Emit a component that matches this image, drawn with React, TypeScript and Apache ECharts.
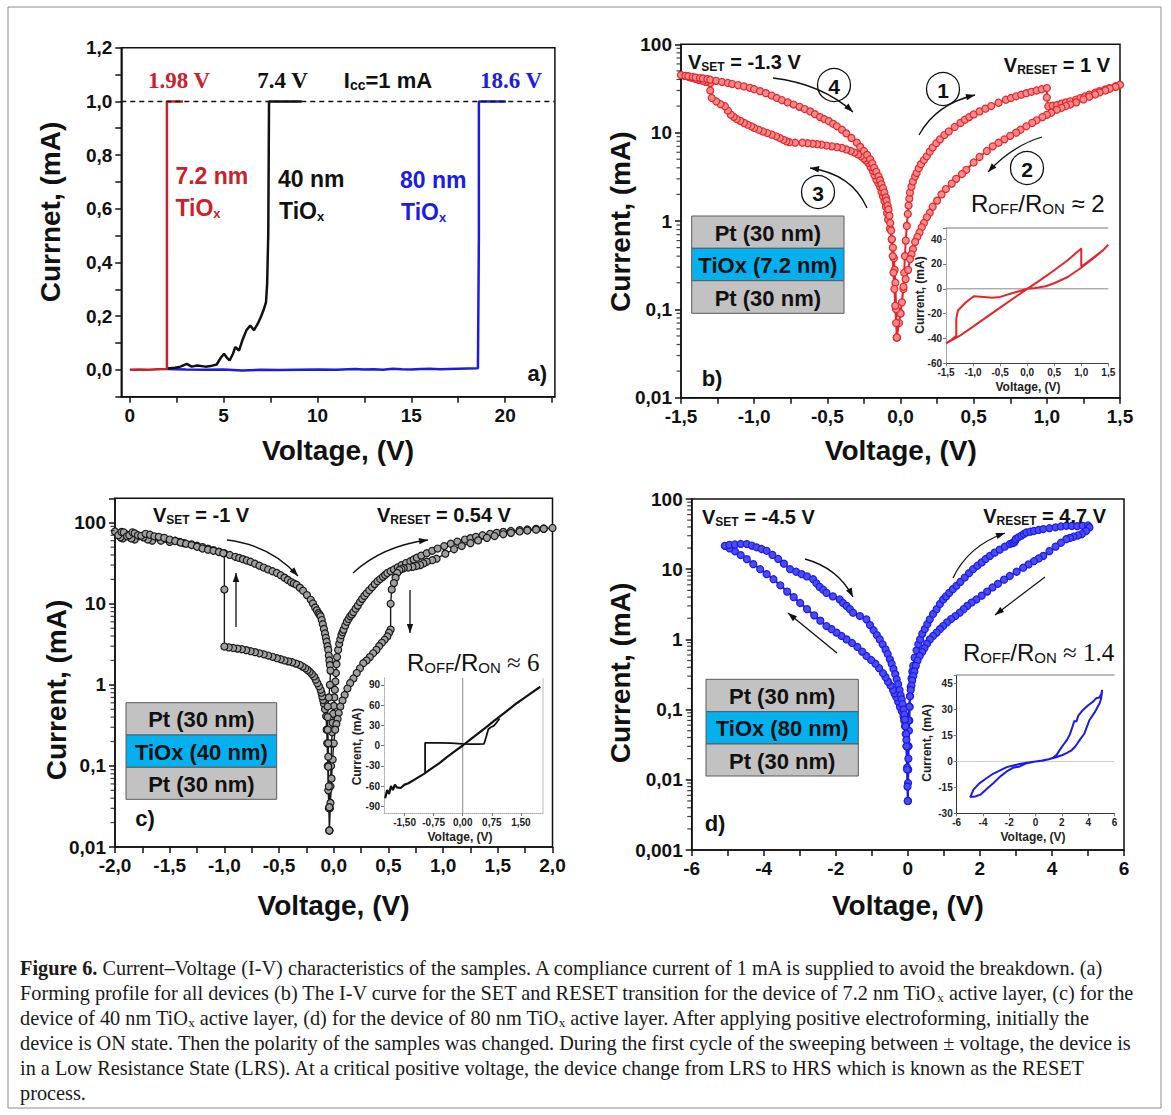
import React, { useEffect, useRef } from 'react';
import * as echarts from 'echarts';

// ---------------- DATA ----------------
// (a) forming curves  [voltage V, current mA]
const aRed = [[0, 0], [0.5, 0.001], [1.0, 0.0], [1.5, 0.002], [1.98, 0.003], [1.98, 0.5], [1.98, 1.0], [2.4, 1.0], [2.84, 1.0]];
const aBlack = [[1.98, 0.005], [2.4, 0.008], [2.7, 0.012], [3.04, 0.022], [3.3, 0.012], [3.6, 0.016], [4.03, 0.012], [4.3, 0.014], [4.63, 0.02], [4.85, 0.045], [5.02, 0.06], [5.18, 0.045], [5.32, 0.035], [5.5, 0.06], [5.62, 0.085], [5.82, 0.072], [6.0, 0.11], [6.22, 0.148], [6.42, 0.165], [6.62, 0.148], [6.82, 0.172], [7.0, 0.2], [7.12, 0.221], [7.26, 0.252], [7.32, 0.321], [7.38, 0.508], [7.42, 1.0], [8.2, 1.0], [9.16, 1.0]];
const aBlue = [[1.98, 0.003], [3.0, 0.001], [4.0, 0.0], [5.0, 0.001], [6.0, -0.002], [7.0, 0.0], [8.0, -0.001], [9.0, 0.0], [10.0, 0.001], [11.0, 0.0], [12.0, 0.003], [12.5, 0.001], [13.0, 0.002], [13.5, 0.0], [14.0, 0.004], [14.5, 0.002], [15.0, 0.001], [15.5, 0.003], [16.0, 0.004], [16.5, 0.002], [17.0, 0.003], [17.5, 0.004], [18.0, 0.005], [18.55, 0.006], [18.6, 0.5], [18.6, 1.0], [19.3, 1.0], [20.04, 1.0]];
const aCompliance = 1.0;

// (b) 7.2 nm TiOx, sweep order  [V, mA]
const bSweep = [
  [-0.025, 0.048], [-0.01, 0.07], [0.0, 0.09], [0.01, 0.12], [0.02, 0.17], [0.025, 0.26], [0.03, 0.4], [0.036, 0.6], [0.043, 0.88], [0.05, 1.2], [0.055, 1.5], [0.06, 1.8], [0.065, 2.1], [0.075, 2.45], [0.085, 2.8], [0.1, 3.2], [0.11, 3.5], [0.125, 3.95], [0.14, 4.4], [0.16, 4.9], [0.18, 5.4], [0.2, 6.1], [0.22, 6.8], [0.245, 7.6], [0.27, 8.4], [0.3, 9.4], [0.33, 10.3], [0.37, 11.6], [0.41, 12.9], [0.44, 14], [0.47, 15.0], [0.5, 16.1], [0.54, 17.4], [0.58, 18.7], [0.62, 20], [0.67, 21.8], [0.72, 23.6], [0.755, 24.7], [0.79, 25.8], [0.825, 26.9], [0.86, 28], [0.895, 29], [0.93, 30], [0.965, 31], [1.0, 32],
  [1.0, 25], [1.01, 19.9],
  [1.04, 20.2], [1.07, 20.5], [1.1, 21.3], [1.13, 22], [1.16, 22.6], [1.2, 23.7], [1.23, 24.6], [1.26, 25.7], [1.29, 26.9], [1.33, 28.3], [1.36, 29.5], [1.4, 30.9], [1.43, 32], [1.47, 33.5], [1.5, 34.9],
  [1.47, 33], [1.43, 31.5], [1.4, 30], [1.36, 28.5], [1.33, 27], [1.29, 25.5], [1.25, 23.8], [1.2, 22], [1.16, 20.8], [1.13, 20], [1.1, 19.1], [1.068, 18.2], [1.03, 16.8], [1.0, 15.9], [0.97, 15], [0.93, 13.8], [0.9, 12.9], [0.86, 11.8], [0.82, 10.8], [0.79, 10], [0.75, 9.2], [0.71, 8.4], [0.67, 7.7], [0.63, 7.0], [0.59, 6.2], [0.54, 5.3], [0.5, 4.6], [0.45, 3.8], [0.42, 3.4], [0.38, 3.0], [0.35, 2.65], [0.31, 2.3], [0.28, 2.0], [0.25, 1.7], [0.22, 1.45], [0.2, 1.24], [0.18, 1.1], [0.16, 0.95], [0.145, 0.85], [0.13, 0.74], [0.115, 0.66], [0.1, 0.58], [0.085, 0.48], [0.075, 0.42], [0.065, 0.37], [0.052, 0.28], [0.035, 0.22], [0.02, 0.18], [0.0, 0.09], [-0.025, 0.048],
  [-0.03, 0.1], [-0.035, 0.2], [-0.04, 0.28], [-0.045, 0.38], [-0.052, 0.5], [-0.06, 0.62], [-0.072, 0.82], [-0.085, 1.04], [-0.092, 1.22], [-0.1, 1.45], [-0.11, 1.68], [-0.12, 1.9], [-0.13, 2.15], [-0.14, 2.45], [-0.152, 2.7], [-0.165, 2.95], [-0.178, 3.3], [-0.19, 3.7], [-0.205, 4.1], [-0.22, 4.55], [-0.235, 4.85], [-0.25, 5.1], [-0.27, 5.4], [-0.29, 5.65], [-0.315, 5.95], [-0.34, 6.2], [-0.37, 6.45], [-0.40, 6.7], [-0.435, 6.85], [-0.47, 7.0], [-0.505, 7.15], [-0.54, 7.3], [-0.57, 7.4], [-0.6, 7.5], [-0.635, 7.6], [-0.67, 7.7], [-0.72, 7.7], [-0.76, 7.8], [-0.78, 8.0], [-0.8, 8.3], [-0.825, 8.7], [-0.85, 9.1], [-0.88, 9.5], [-0.91, 9.9], [-0.94, 10.3], [-0.97, 10.8], [-1.0, 11.3], [-1.02, 11.8], [-1.045, 12.3], [-1.07, 12.9], [-1.095, 13.6], [-1.12, 14.3], [-1.14, 15.1], [-1.16, 16], [-1.18, 17.8], [-1.2, 19.9], [-1.23, 21], [-1.26, 22.6], [-1.29, 24.7],
  [-1.30, 30], [-1.30, 36.4],
  [-1.33, 37.6], [-1.35, 38.5], [-1.38, 39.6], [-1.4, 40.5], [-1.43, 41.8], [-1.45, 43], [-1.48, 44], [-1.5, 45],
  [-1.47, 44], [-1.45, 43.5], [-1.42, 42.6], [-1.4, 42], [-1.37, 41.5], [-1.35, 41], [-1.32, 40.3], [-1.30, 39.7], [-1.26, 38.6], [-1.22, 37.5], [-1.18, 36.5], [-1.15, 35.5], [-1.11, 34.5], [-1.07, 33.4], [-1.03, 32.2], [-1.0, 31], [-0.96, 29.5], [-0.92, 28], [-0.88, 26.3], [-0.845, 24.7], [-0.81, 23.3], [-0.77, 22], [-0.73, 20.8], [-0.69, 19.6], [-0.655, 18.5], [-0.617, 17.4], [-0.585, 16.2], [-0.55, 15], [-0.52, 14.2], [-0.49, 13.5], [-0.46, 12.6], [-0.435, 11.8], [-0.4, 10.8], [-0.37, 9.8], [-0.335, 8.7], [-0.298, 7.7], [-0.275, 6.9], [-0.25, 6.2], [-0.228, 5.6], [-0.207, 5.0], [-0.193, 4.5], [-0.18, 4.0], [-0.165, 3.6], [-0.15, 3.2], [-0.14, 2.9], [-0.13, 2.6], [-0.12, 2.35], [-0.11, 2.1], [-0.1, 1.85], [-0.095, 1.7], [-0.088, 1.5], [-0.082, 1.35], [-0.076, 1.15], [-0.07, 0.95], [-0.064, 0.78], [-0.059, 0.62], [-0.053, 0.4], [-0.048, 0.26], [-0.042, 0.17], [-0.036, 0.11], [-0.03, 0.07], [-0.025, 0.048],
];
// (b) inset, linear scale
const biSweep = [[0, 0], [0.25, 7.2], [0.5, 15], [0.75, 23], [1.0, 32.5], [1.0, 18], [1.1, 21], [1.25, 26], [1.4, 31], [1.5, 35.5], [1.4, 31], [1.25, 25.5], [1.0, 17], [0.75, 9.5], [0.5, 4.5], [0.34, 2.1], [0.15, 0.6], [0, 0], [-0.25, -3.2], [-0.5, -6.5], [-0.65, -7.2], [-0.8, -6.5], [-0.98, -5.9], [-1.05, -8], [-1.14, -11.2], [-1.23, -15.2], [-1.28, -17.5], [-1.31, -24], [-1.31, -37.9], [-1.4, -41], [-1.5, -44], [-1.25, -38], [-1.0, -30.4], [-0.75, -22.8], [-0.5, -15.2], [-0.25, -7.6], [0, 0]];

// (c) 40 nm TiOx, sweep order
const cSweep = [
  [-0.04, 0.016], [-0.035, 0.03], [-0.03, 0.056], [-0.025, 0.1], [-0.02, 0.19], [-0.015, 0.26], [-0.01, 0.34], [-0.005, 0.44], [0.0, 0.55], [0.005, 0.7], [0.01, 0.87], [0.015, 1.1], [0.02, 1.4], [0.025, 1.8], [0.03, 2.2], [0.04, 2.7], [0.05, 3.2], [0.06, 3.65], [0.07, 4.1], [0.08, 4.45], [0.09, 4.8], [0.105, 5.4], [0.12, 6.0], [0.135, 6.5], [0.15, 7.0], [0.165, 7.4], [0.18, 7.9], [0.2, 8.7], [0.22, 9.5], [0.24, 10.5], [0.26, 11.5], [0.28, 12.5], [0.30, 13.5], [0.325, 14.7], [0.35, 16], [0.375, 17.5], [0.40, 19], [0.425, 20.2], [0.45, 21.5], [0.47, 22.7], [0.49, 24], [0.52, 25.2], [0.55, 26.5], [0.585, 28.2], [0.62, 30], [0.66, 31.8], [0.7, 33.5], [0.73, 35.2], [0.76, 37], [0.8, 39.3], [0.85, 42], [0.9, 45], [0.95, 48], [1.01, 51.5], [1.07, 55], [1.13, 58.5], [1.2, 62], [1.25, 64.5], [1.3, 67], [1.36, 70], [1.43, 73], [1.49, 75], [1.55, 77], [1.62, 79], [1.7, 81], [1.77, 82.5], [1.85, 84], [1.92, 85], [2.0, 86],
  [1.92, 84], [1.85, 82], [1.77, 80], [1.7, 78], [1.62, 75], [1.55, 72], [1.47, 68.5], [1.4, 65], [1.32, 60.5], [1.25, 56], [1.17, 51.5], [1.1, 47], [1.02, 41.5], [0.94, 36], [0.9, 34.5], [0.85, 33], [0.82, 31.5], [0.79, 30], [0.755, 29.2], [0.72, 28.5], [0.68, 28], [0.64, 27.5], [0.62, 26.8], [0.6, 26], [0.58, 24], [0.565, 21], [0.55, 18], [0.53, 15],
  [0.52, 10], [0.52, 4.8],
  [0.505, 4.4], [0.49, 3.95], [0.465, 3.6], [0.44, 3.3], [0.415, 3.0], [0.39, 2.7], [0.36, 2.45], [0.33, 2.2], [0.3, 2.0], [0.27, 1.85], [0.24, 1.6], [0.21, 1.4], [0.18, 1.2], [0.15, 1.05], [0.125, 0.9], [0.1, 0.75], [0.08, 0.64], [0.06, 0.54], [0.045, 0.45], [0.035, 0.38], [0.024, 0.33], [0.013, 0.28], [0.0, 0.19], [-0.01, 0.12], [-0.02, 0.07], [-0.03, 0.035], [-0.04, 0.016],
  [-0.045, 0.03], [-0.05, 0.05], [-0.055, 0.1], [-0.06, 0.19], [-0.065, 0.28], [-0.07, 0.41], [-0.08, 0.5], [-0.09, 0.59], [-0.097, 0.65], [-0.105, 0.72], [-0.112, 0.8], [-0.12, 0.87], [-0.135, 0.96], [-0.15, 1.05], [-0.165, 1.16], [-0.18, 1.27], [-0.2, 1.36], [-0.22, 1.45], [-0.24, 1.53], [-0.26, 1.6], [-0.285, 1.68], [-0.31, 1.76], [-0.345, 1.83], [-0.38, 1.9], [-0.415, 1.95], [-0.45, 2.0], [-0.485, 2.07], [-0.52, 2.13], [-0.56, 2.22], [-0.6, 2.3], [-0.64, 2.38], [-0.68, 2.45], [-0.72, 2.53], [-0.76, 2.6], [-0.8, 2.68], [-0.84, 2.75], [-0.88, 2.8], [-0.92, 2.85], [-0.96, 2.9], [-1.0, 2.97],
  [-1.0, 15], [-1.0, 42],
  [-1.05, 44], [-1.1, 46], [-1.15, 48], [-1.2, 50], [-1.25, 52], [-1.3, 54], [-1.37, 56], [-1.41, 58], [-1.45, 60], [-1.5, 58], [-1.55, 63], [-1.58, 60], [-1.62, 66], [-1.66, 60], [-1.7, 62], [-1.74, 66], [-1.78, 68], [-1.82, 62], [-1.85, 64], [-1.88, 70], [-1.9, 72], [-1.93, 64], [-1.95, 66], [-1.98, 74], [-2.0, 78], [-1.97, 70], [-1.94, 77], [-1.92, 76], [-1.89, 68], [-1.87, 70], [-1.84, 76], [-1.82, 74], [-1.79, 70], [-1.76, 69], [-1.72, 73], [-1.68, 71], [-1.64, 68], [-1.6, 67], [-1.55, 65], [-1.5, 62], [-1.45, 59.5],
  [-1.4, 57], [-1.35, 55], [-1.3, 53], [-1.25, 50.5], [-1.2, 48], [-1.15, 46.5], [-1.1, 45], [-1.05, 43.5], [-1.01, 42], [-0.95, 40], [-0.9, 38], [-0.865, 36.8], [-0.83, 35.5], [-0.795, 34.2], [-0.76, 33], [-0.72, 31.2], [-0.68, 29.5], [-0.64, 28], [-0.6, 26.5], [-0.56, 25.2], [-0.52, 24], [-0.485, 22.5], [-0.45, 21], [-0.42, 19.7], [-0.39, 18.5], [-0.365, 17.8], [-0.34, 17.2], [-0.31, 15.8], [-0.28, 14.5], [-0.245, 12.8], [-0.21, 11.2], [-0.19, 10.1], [-0.17, 9], [-0.155, 8.3], [-0.14, 7.7], [-0.13, 7.35], [-0.12, 7], [-0.11, 6.3], [-0.1, 5.6], [-0.09, 4.9], [-0.08, 4.3], [-0.072, 3.8], [-0.065, 3.4], [-0.057, 3.0], [-0.05, 2.7], [-0.045, 2.3], [-0.04, 2.0], [-0.035, 1.75], [-0.03, 1.5], [-0.035, 1.0], [-0.045, 0.7], [-0.055, 0.54], [-0.055, 0.4], [-0.055, 0.28], [-0.05, 0.19], [-0.05, 0.13], [-0.05, 0.098], [-0.045, 0.056], [-0.04, 0.031], [-0.04, 0.016],
];
// (c) inset
const ciLRS = [[-2.0, -78], [-1.95, -66], [-1.9, -72], [-1.85, -60], [-1.8, -66], [-1.75, -58], [-1.7, -62], [-1.6, -63], [-1.5, -58], [-1.4, -56], [-1.2, -49], [-1.0, -42], [-0.8, -34], [-0.6, -26], [-0.4, -17], [-0.2, -8.5], [0, 0], [0.2, 9], [0.4, 18], [0.6, 27], [0.8, 36], [1.0, 45], [1.2, 54], [1.4, 63], [1.6, 71], [1.8, 79], [2.0, 87]];
const ciHRS = [[-0.97, -40], [-0.97, 4], [-0.6, 4], [-0.3, 3.5], [0, 2.5], [0.2, 2], [0.4, 2], [0.55, 2.5], [0.6, 12], [0.66, 24], [0.72, 27], [0.8, 29], [0.86, 33], [0.95, 40]];
const ciZero = [[0, -100], [0, 100]];

// (d) 80 nm TiOx, sweep order
const dSweep = [
  [0.0, 0.005], [0.005, 0.009], [0.01, 0.014], [0.015, 0.02], [0.02, 0.03], [0.03, 0.05], [0.04, 0.07], [0.05, 0.11], [0.06, 0.155], [0.08, 0.21], [0.1, 0.28], [0.125, 0.35], [0.15, 0.42], [0.19, 0.55], [0.24, 0.7], [0.29, 0.85], [0.34, 1.0], [0.4, 1.2], [0.47, 1.4], [0.54, 1.65], [0.61, 1.93], [0.7, 2.3], [0.8, 2.7], [0.89, 3.2], [0.98, 3.7], [1.06, 4.1], [1.15, 4.6], [1.25, 5.2], [1.35, 5.8], [1.46, 6.6], [1.58, 7.6], [1.7, 8.8], [1.81, 10], [1.93, 11.2], [2.05, 12.5], [2.16, 14], [2.28, 15.5], [2.41, 17.2], [2.55, 19], [2.69, 20.9], [2.83, 22.8], [2.9, 23.5], [2.95, 24], [2.98, 25.5], [3.0, 27], [3.07, 28.5], [3.15, 30], [3.22, 31.8], [3.29, 33.4], [3.4, 34.2], [3.5, 35], [3.63, 36.2], [3.76, 37.3], [3.93, 38.4], [4.1, 39.5], [4.25, 40.6], [4.4, 41.6], [4.55, 41.3], [4.7, 41], [4.85, 41.5], [5.0, 42],
  [5.04, 39.4], [4.95, 35], [4.83, 31.6], [4.72, 30.2], [4.6, 29], [4.5, 27.9], [4.4, 26.8], [4.25, 23.8], [4.1, 21], [3.93, 18.1], [3.76, 15.5], [3.63, 14.2], [3.5, 13], [3.35, 11.7], [3.2, 10.5], [3.02, 9.2], [2.83, 8.0], [2.67, 7.1], [2.5, 6.2], [2.35, 5.5], [2.2, 4.8], [2.05, 4.2], [1.9, 3.7], [1.77, 3.35], [1.65, 3.0], [1.55, 2.7], [1.44, 2.4], [1.32, 2.15], [1.2, 1.95], [1.09, 1.75], [0.98, 1.55], [0.89, 1.4], [0.8, 1.25], [0.7, 1.12], [0.61, 1.0], [0.53, 0.87], [0.46, 0.75], [0.4, 0.66], [0.33, 0.58], [0.27, 0.5], [0.22, 0.42], [0.18, 0.35], [0.15, 0.3], [0.12, 0.26], [0.1, 0.22], [0.08, 0.19], [0.06, 0.155], [0.04, 0.11], [0.02, 0.07], [0.01, 0.03], [0.0, 0.005],
  [-0.02, 0.015], [-0.04, 0.03], [-0.06, 0.045], [-0.08, 0.058], [-0.1, 0.07], [-0.12, 0.08], [-0.17, 0.095], [-0.22, 0.11], [-0.27, 0.13], [-0.32, 0.15], [-0.37, 0.17], [-0.41, 0.19], [-0.48, 0.22], [-0.55, 0.25], [-0.62, 0.29], [-0.69, 0.33], [-0.8, 0.39], [-0.9, 0.45], [-1.02, 0.51], [-1.15, 0.58], [-1.27, 0.67], [-1.4, 0.78], [-1.55, 0.89], [-1.7, 1.0], [-1.84, 1.12], [-1.98, 1.25], [-2.12, 1.4], [-2.26, 1.55], [-2.43, 1.85], [-2.6, 2.2], [-2.8, 2.7], [-2.99, 3.3], [-3.17, 4.0], [-3.35, 4.8], [-3.54, 5.9], [-3.73, 7.2], [-3.92, 8.5], [-4.1, 10], [-4.29, 11.8], [-4.47, 13.9], [-4.64, 15.9], [-4.8, 18], [-4.95, 19.8], [-5.08, 21.5],
  [-4.95, 22.2], [-4.8, 22.5], [-4.64, 22.9], [-4.47, 22.8], [-4.33, 21.7], [-4.2, 20.5], [-4.06, 19.4], [-3.92, 18.3], [-3.76, 16], [-3.6, 14], [-3.44, 12], [-3.27, 10], [-3.1, 9.2], [-2.95, 8.5], [-2.8, 7.9], [-2.63, 7.2], [-2.54, 6.3], [-2.45, 5.6], [-2.35, 5.1], [-2.26, 4.6], [-2.08, 4.1], [-1.89, 3.7], [-1.8, 3.3], [-1.7, 3.0], [-1.61, 2.7], [-1.52, 2.4], [-1.33, 2.15], [-1.15, 1.93], [-1.05, 1.6], [-0.95, 1.35], [-0.86, 1.15], [-0.78, 1.0], [-0.7, 0.85], [-0.62, 0.72], [-0.56, 0.62], [-0.5, 0.52], [-0.45, 0.45], [-0.4, 0.38], [-0.35, 0.32], [-0.31, 0.27], [-0.27, 0.23], [-0.23, 0.19], [-0.2, 0.16], [-0.17, 0.14], [-0.145, 0.12], [-0.12, 0.1], [-0.1, 0.085], [-0.08, 0.072], [-0.065, 0.058], [-0.05, 0.045], [-0.04, 0.037], [-0.03, 0.03], [-0.02, 0.014], [-0.01, 0.008], [0.0, 0.005],
];
// (d) inset
const diSweep = [[0, 0], [0.5, 0.5], [1.0, 1.3], [1.34, 2.2], [1.6, 3.8], [1.84, 6.7], [2.1, 9.5], [2.35, 12], [2.6, 15.5], [2.8, 20], [2.95, 23.5], [3.1, 23], [3.25, 26.5], [3.6, 29.8], [4.0, 32.5], [4.37, 34.6], [4.6, 36.5], [4.85, 37], [5.0, 39], [5.06, 41.4],
  [5.0, 37], [4.87, 33.7], [4.5, 28.5], [4.1, 24], [3.7, 16], [3.36, 12.5], [3.0, 8.5], [2.7, 6.2], [2.35, 4.8], [2.0, 3.6], [1.6, 2.6], [1.34, 1.9], [1.0, 1.2], [0.5, 0.4], [0, 0],
  [-0.68, -1.0], [-1.19, -2.9], [-1.69, -3.6], [-2.2, -5.8], [-2.7, -8.8], [-3.2, -12.5], [-3.7, -15.8], [-4.2, -19.2], [-4.6, -20.3], [-4.97, -20.6],
  [-4.85, -18.5], [-4.72, -16.3], [-4.3, -12.8], [-3.71, -9.6], [-3.2, -7], [-2.7, -5.2], [-2.2, -3.3], [-1.69, -2.3], [-1.2, -1.5], [-0.68, -0.8], [0, 0]];

// tick labels / tick positions
const aXLabels = [0, 5, 10, 15, 20];
const aXTicks = [0, 2.5, 5, 7.5, 10, 12.5, 15, 17.5, 20, 22.5];
const ciXLabels = [-1.5, -0.75, 0, 0.75, 1.5];
const ciYLabels = [-90, -60, -30, 0, 30, 60, 90];
const logMinorMultipliers = [2, 3, 4, 5, 6, 7, 8, 9];
const bDecades = [0.01, 0.1, 1, 10];
const cDecades = [0.01, 0.1, 1, 10];
const dDecades = [0.001, 0.01, 0.1, 1, 10];

// ---------------- STYLE HELPERS ----------------
const SANS = "'Liberation Sans', Arial, Helvetica, sans-serif";
const SERIF = "'Liberation Serif', 'Times New Roman', serif";
const RED_A = '#c8232c';
const RED_B = '#e3262b';
const BLUE = '#1c1ce6';
const INK = '#111';

const comma = (v: number, d: number) => v.toFixed(d).replace('.', ',');
const near = (v: number, step: number) => Math.abs(v / step - Math.round(v / step)) < 1e-6;
const logFmt = (v: number) => {
  const l = Math.log10(v);
  if (Math.abs(l - Math.round(l)) > 1e-6) return '';
  const r = Math.round(l);
  return r >= 0 ? String(Math.round(v)) : v.toFixed(-r).replace('.', ',');
};

const mainAxis = (extra: any) => ({
  axisLine: { show: true, onZero: false, lineStyle: { color: INK, width: 1.5 } },
  axisTick: { show: true, inside: false, length: 6, lineStyle: { color: INK, width: 1.5 } },
  axisLabel: { color: INK, fontSize: 19, fontWeight: 'bold', fontFamily: SANS, margin: 9 },
  splitLine: { show: false },
  ...extra,
  ...(extra.axisLabel ? { axisLabel: { color: INK, fontSize: 19, fontWeight: 'bold', fontFamily: SANS, margin: 9, ...extra.axisLabel } } : {}),
  ...(extra.axisTick ? { axisTick: { show: true, inside: false, length: 6, lineStyle: { color: INK, width: 1.5 }, ...extra.axisTick } } : {}),
});

const insetAxis = (extra: any, lineColor: string, lineType: string) => ({
  axisLine: { show: true, onZero: false, lineStyle: { color: lineColor, width: 1, type: lineType } },
  axisTick: { show: true, inside: false, length: 3, lineStyle: { color: '#777', width: 1 } },
  splitLine: { show: false },
  ...extra,
  axisLabel: { color: '#222', fontSize: 10, fontWeight: 'bold', fontFamily: SANS, margin: 4, ...(extra.axisLabel || {}) },
  ...(extra.axisTick ? { axisTick: { show: true, inside: false, length: 3, lineStyle: { color: '#777', width: 1 }, ...extra.axisTick } } : {}),
});

function headAt(x2: number, y2: number, dx: number, dy: number) {
  const L = Math.hypot(dx, dy);
  const ux = dx / L, uy = dy / L;
  const hl = 9, hw = 3.2;
  const bx = x2 - ux * hl, by = y2 - uy * hl;
  return { type: 'polygon', z: 120, shape: { points: [[x2, y2], [bx - uy * hw, by + ux * hw], [bx + uy * hw, by - ux * hw]] }, style: { fill: INK } };
}
function curvedArrow(x1: number, y1: number, cx: number, cy: number, x2: number, y2: number) {
  return [
    { type: 'bezierCurve', z: 120, shape: { x1, y1, x2, y2, cpx1: cx, cpy1: cy }, style: { stroke: INK, lineWidth: 1.3, fill: null } },
    headAt(x2, y2, x2 - cx, y2 - cy),
  ];
}
function straightArrow(x1: number, y1: number, x2: number, y2: number) {
  return [
    { type: 'line', z: 120, shape: { x1, y1, x2, y2 }, style: { stroke: INK, lineWidth: 1.3 } },
    headAt(x2, y2, x2 - x1, y2 - y1),
  ];
}
function txt(x: number, y: number, text: string, o: any = {}) {
  const { rich, rotation, ...style } = o;
  return {
    type: 'text', z: 130, x, y, rotation: rotation || 0,
    style: { text, fill: INK, fontFamily: SANS, fontSize: 20, fontWeight: 'bold', align: 'left', verticalAlign: 'middle', rich, ...style },
  };
}
function stack(x: number, w: number, ys: number[], mid: string) {
  const layers = [['Pt (30 nm)', '#c2c2c2'], [mid, '#05b0ef'], ['Pt (30 nm)', '#c2c2c2']];
  const els: any[] = [];
  layers.forEach((l, i) => {
    els.push({ type: 'rect', z: 110, shape: { x, y: ys[i], width: w, height: ys[i + 1] - ys[i] }, style: { fill: l[1], stroke: '#5a5a5a', lineWidth: 1 } });
    els.push(txt(x + w / 2, (ys[i] + ys[i + 1]) / 2 + 1, l[0], { align: 'center', fontSize: 22 }));
  });
  return els;
}
function circleNum(cx: number, cy: number, n: string) {
  return [
    { type: 'circle', z: 115, shape: { cx, cy, r: 16.5 }, style: { fill: null, stroke: INK, lineWidth: 1.3 } },
    txt(cx, cy + 1, n, { align: 'center', fontSize: 21 }),
  ];
}
const subRich = (main: number, sub: number, weight: string, family = SANS) => ({
  m: { fontSize: main, fontWeight: weight, fontFamily: family, fill: INK },
  s: { fontSize: sub, fontWeight: weight, fontFamily: family, fill: INK, padding: [Math.round(main * 0.45), 0, 0, 0] },
});
const ratioRich = () => ({
  m: { fontSize: 24, fontFamily: SANS, fill: INK },
  s: { fontSize: 15, fontFamily: SANS, fill: INK, padding: [10, 0, 0, 0] },
  t: { fontSize: 25, fontFamily: SERIF, fill: INK },
});
const tioRich = (color: string) => ({
  m: { fontSize: 23, fontWeight: 'bold', fontFamily: SANS, fill: color },
  s: { fontSize: 13, fontWeight: 'bold', fontFamily: SANS, fill: color, padding: [11, 0, 0, 0] },
});

function minorTicks(decades: number[], x: number) {
  const pts: number[][] = [];
  decades.forEach((d) => logMinorMultipliers.forEach((m) => pts.push([x, d * m])));
  return pts;
}

// ---------------- OPTION ----------------
function buildOption() {
  const grids = [
    { left: 121.3, top: 47.7, width: 433.6, height: 349 },
    { left: 681, top: 44.3, width: 439, height: 353.4 },
    { left: 946, top: 228, width: 162.3, height: 135.3 },
    { left: 115, top: 498.3, width: 437.5, height: 348.7 },
    { left: 384, top: 678, width: 159, height: 135 },
    { left: 691.7, top: 499, width: 432.3, height: 351 },
    { left: 956.7, top: 675, width: 157.8, height: 138.3 },
  ].map((g, i) => ({ ...g, show: [0, 1, 3, 5].includes(i), borderColor: INK, borderWidth: 1.5, backgroundColor: 'transparent' }));

  const xAxis: any[] = [
    { type: 'value', gridIndex: 0, min: -0.45, max: 22.65, ...mainAxis({ axisLabel: { customValues: aXLabels, formatter: (v: number) => String(v) }, axisTick: { customValues: aXTicks } }) },
    { type: 'value', gridIndex: 1, min: -1.5, max: 1.5, interval: 0.25, ...mainAxis({ axisLabel: { formatter: (v: number) => (near(v, 0.5) ? comma(v, 1) : '') } }) },
    { type: 'value', gridIndex: 2, min: -1.5, max: 1.5, interval: 0.5, ...insetAxis({ axisLabel: { formatter: (v: number) => comma(v, 1) } }, '#444', 'solid') },
    { type: 'value', gridIndex: 3, min: -2, max: 2, interval: 0.25, ...mainAxis({ axisLabel: { formatter: (v: number) => (near(v, 0.5) ? comma(v, 1) : '') } }) },
    { type: 'value', gridIndex: 4, min: -2.03, max: 2.07, ...insetAxis({ axisLabel: { customValues: ciXLabels, formatter: (v: number) => comma(v, 2) }, axisTick: { customValues: ciXLabels } }, '#aaa', 'dotted') },
    { type: 'value', gridIndex: 5, min: -6, max: 6, interval: 1, ...mainAxis({ axisLabel: { formatter: (v: number) => (near(v, 2) ? String(v) : '') } }) },
    { type: 'value', gridIndex: 6, min: -6, max: 6, interval: 2, ...insetAxis({ axisLabel: { formatter: (v: number) => String(v) } }, '#333', 'solid') },
  ];
  const yAxis: any[] = [
    { type: 'value', gridIndex: 0, min: -0.1, max: 1.2, interval: 0.1, ...mainAxis({ axisLabel: { formatter: (v: number) => (v > -0.05 && near(v, 0.2) ? comma(v, 1) : '') } }) },
    { type: 'log', logBase: 10, gridIndex: 1, min: 0.01, max: 100, ...mainAxis({ axisLabel: { formatter: logFmt } }) },
    { type: 'value', gridIndex: 2, min: -60, max: 49, interval: 20, ...insetAxis({ axisLabel: { formatter: (v: number) => (near(v, 20) ? String(v) : '') } }, '#999', 'dotted') },
    { type: 'log', logBase: 10, gridIndex: 3, min: 0.01, max: 200, ...mainAxis({ axisLabel: { formatter: logFmt } }) },
    { type: 'value', gridIndex: 4, min: -100, max: 100, ...insetAxis({ axisLabel: { customValues: ciYLabels, formatter: (v: number) => String(v) }, axisTick: { customValues: ciYLabels } }, '#aaa', 'dotted') },
    { type: 'log', logBase: 10, gridIndex: 5, min: 0.001, max: 100, ...mainAxis({ axisLabel: { formatter: logFmt } }) },
    { type: 'value', gridIndex: 6, min: -30, max: 50, interval: 15, ...insetAxis({ axisLabel: { formatter: (v: number) => (near(v, 15) ? String(v) : '') } }, '#333', 'solid') },
  ];

  const line = (data: any, i: number, color: string, width: number, z = 3, extra: any = {}) => ({
    type: 'line', data, xAxisIndex: i, yAxisIndex: i, symbol: 'none', z, silent: true,
    lineStyle: { color, width, ...(extra.lineStyle || {}) }, itemStyle: { color },
  });
  const marked = (data: any, i: number, stroke: string, fill: string, size: number, lw: number) => ({
    type: 'line', data, xAxisIndex: i, yAxisIndex: i, symbol: 'circle', symbolSize: size, showSymbol: true, showAllSymbol: true, z: 4, silent: true,
    lineStyle: { color: stroke, width: lw }, itemStyle: { color: fill, borderColor: stroke, borderWidth: 1.2 },
  });
  const minor = (data: any, i: number) => ({
    type: 'scatter', data, xAxisIndex: i, yAxisIndex: i, symbol: 'rect', symbolSize: [4, 1.2], symbolOffset: [-2.5, 0], clip: true, silent: true, z: 5,
    itemStyle: { color: INK },
  });

  const series: any[] = [
    line(aBlue, 0, BLUE, 2.5, 3),
    line(aBlack, 0, INK, 2.5, 4),
    line(aRed, 0, RED_A, 2.5, 5),
    line([[-0.45, aCompliance], [22.65, aCompliance]], 0, INK, 1.5, 6, { lineStyle: { type: [5, 4] } }),
    marked(bSweep, 1, RED_B, '#f58a8a', 7, 2),
    minor(minorTicks(bDecades, -1.5), 1),
    line([[-1.5, 0], [1.5, 0]], 2, '#888', 1, 2),
    line(biSweep, 2, RED_B, 2, 4),
    marked(cSweep, 3, '#1a1a1a', '#a0a0a0', 7, 1.4),
    minor(minorTicks(cDecades, -2), 3),
    line(ciZero, 4, '#888', 1, 2),
    line(ciLRS, 4, INK, 2.2, 4),
    line(ciHRS, 4, INK, 1.8, 4),
    marked(dSweep, 5, BLUE, '#4b4bf2', 7, 2.2),
    minor(minorTicks(dDecades, -6), 5),
    line([[-6, 0], [6, 0]], 6, '#ccc', 1, 2),
    line(diSweep, 6, BLUE, 2, 4),
  ];

  const vRich = subRich(20, 12, 'bold');
  const els: any[] = [
    { type: 'rect', z: 0, shape: { x: 8, y: 7, width: 1153, height: 1101 }, style: { fill: null, stroke: '#8c8c8c', lineWidth: 1 } },

    // axis titles
    txt(338, 450, 'Voltage, (V)', { align: 'center', fontSize: 28 }),
    txt(900.8, 450, 'Voltage, (V)', { align: 'center', fontSize: 28 }),
    txt(333.5, 905, 'Voltage, (V)', { align: 'center', fontSize: 28 }),
    txt(907.9, 905, 'Voltage, (V)', { align: 'center', fontSize: 28 }),
    txt(50.4, 212, 'Currnet, (mA)', { align: 'center', fontSize: 28, rotation: Math.PI / 2 }),
    txt(620.5, 221.7, 'Current, (mA)', { align: 'center', fontSize: 28, rotation: Math.PI / 2 }),
    txt(56, 690, 'Current, (mA)', { align: 'center', fontSize: 28, rotation: Math.PI / 2 }),
    txt(620.5, 673, 'Current, (mA)', { align: 'center', fontSize: 28, rotation: Math.PI / 2 }),

    // (a) annotations
    txt(179, 80, '1.98 V', { align: 'center', fontSize: 23, fontFamily: SERIF, fill: RED_A }),
    txt(282.5, 80, '7.4 V', { align: 'center', fontSize: 23, fontFamily: SERIF }),
    txt(388, 80, '{m|I}{s|cc}{m|=1 mA}', { align: 'center', rich: subRich(22, 14, 'bold') }),
    txt(511, 80, '18.6 V', { align: 'center', fontSize: 23, fontFamily: SERIF, fill: BLUE }),
    txt(175.4, 176, '7.2 nm', { fontSize: 23, fill: RED_A }),
    txt(175.4, 208, '{m|TiO}{s|x}', { rich: tioRich(RED_A) }),
    txt(278, 179, '40 nm', { fontSize: 23 }),
    txt(279, 211, '{m|TiO}{s|x}', { rich: tioRich(INK) }),
    txt(400, 180, '80 nm', { fontSize: 23, fill: BLUE }),
    txt(401, 212, '{m|TiO}{s|x}', { rich: tioRich(BLUE) }),
    txt(537.3, 373, 'a)', { align: 'center', fontSize: 22 }),

    // (b) annotations
    txt(688, 62, '{m|V}{s|SET}{m| = -1.3 V}', { rich: vRich }),
    txt(1110, 65, '{m|V}{s|RESET}{m| = 1 V}', { align: 'right', rich: vRich }),
    ...circleNum(834, 85, '4'),
    ...circleNum(943, 89, '1'),
    ...circleNum(1027, 168, '2'),
    ...circleNum(818, 192, '3'),
    ...curvedArrow(773, 78, 822, 84, 853, 112),
    ...curvedArrow(919, 135, 936, 104, 975, 95),
    ...curvedArrow(1042, 137, 1012, 146, 988, 172),
    ...curvedArrow(867, 208, 852, 174, 810, 168),
    txt(971, 203, '{m|R}{s|OFF}{m|/R}{s|ON}{m| ≈ 2}', { rich: ratioRich() }),
    ...stack(691.7, 152.3, [216, 248.3, 280.7, 313.3], 'TiOx (7.2 nm)'),
    txt(712, 378, 'b)', { align: 'center', fontSize: 22 }),
    { type: 'line', z: 100, shape: { x1: 946, y1: 228, x2: 1108.3, y2: 228 }, style: { stroke: '#777', lineWidth: 1 } },
    txt(920, 295, 'Current, (mA)', { align: 'center', fontSize: 12, fill: '#222', rotation: Math.PI / 2 }),
    txt(1028, 387, 'Voltage, (V)', { align: 'center', fontSize: 12, fill: '#222' }),

    // (c) annotations
    txt(153, 515, '{m|V}{s|SET}{m| = -1 V}', { rich: vRich }),
    txt(377, 515, '{m|V}{s|RESET}{m| = 0.54 V}', { rich: vRich }),
    ...straightArrow(236, 627, 236, 573),
    ...straightArrow(410, 590, 410, 633),
    ...curvedArrow(227, 540, 270, 545, 298, 576),
    ...curvedArrow(353, 573, 382, 546, 428, 540),
    txt(407, 662, '{m|R}{s|OFF}{m|/R}{s|ON}{t| ≈ 6}', { rich: ratioRich() }),
    ...stack(126, 150.7, [702.7, 735, 767.3, 799.3], 'TiOx (40 nm)'),
    txt(145, 818, 'c)', { align: 'center', fontSize: 22 }),
    { type: 'line', z: 100, shape: { x1: 543, y1: 678, x2: 543, y2: 813 }, style: { stroke: '#bbb', lineWidth: 1 } },
    txt(356.7, 746.7, 'Current, (mA)', { align: 'center', fontSize: 12, fill: '#222', rotation: Math.PI / 2 }),
    txt(460, 837, 'Voltage, (V)', { align: 'center', fontSize: 12, fill: '#222' }),

    // (d) annotations
    txt(702, 517, '{m|V}{s|SET}{m| = -4.5 V}', { rich: vRich }),
    txt(1106, 516, '{m|V}{s|RESET}{m| = 4.7 V}', { align: 'right', rich: vRich }),
    ...curvedArrow(805, 559, 838, 568, 853, 597),
    ...straightArrow(837, 653, 788, 613),
    ...curvedArrow(953, 578, 968, 546, 1005, 533),
    ...straightArrow(1045, 577, 995, 615),
    txt(963, 652, '{m|R}{s|OFF}{m|/R}{s|ON}{t| ≈ 1.4}', { rich: ratioRich() }),
    ...stack(706, 152.3, [679.3, 711.7, 744, 776], 'TiOx (80 nm)'),
    txt(715, 823, 'd)', { align: 'center', fontSize: 22 }),
    { type: 'line', z: 100, shape: { x1: 956.7, y1: 675, x2: 1114.5, y2: 675 }, style: { stroke: '#777', lineWidth: 1 } },
    txt(926.7, 743, 'Current, (mA)', { align: 'center', fontSize: 12, fill: '#222', rotation: Math.PI / 2 }),
    txt(1033, 837, 'Voltage, (V)', { align: 'center', fontSize: 12, fill: '#222' }),
  ];

  // caption
  const CAP = 20.3;
  const capRich = {
    b: { fontSize: CAP, fontWeight: 'bold', fontFamily: SERIF, fill: '#1a1a1a' },
    s: { fontSize: 13, fontFamily: SERIF, fill: '#1a1a1a', padding: [9, 0, 0, 0] },
  };
  const capLines = [
    '{b|Figure 6.} Current–Voltage (I-V) characteristics of the samples. A compliance current of 1 mA is supplied to avoid the breakdown. (a)',
    'Forming profile for all devices (b) The I-V curve for the SET and RESET transition for the device of 7.2 nm TiO{s|x} active layer, (c) for the',
    'device of 40 nm TiO{s|x} active layer, (d) for the device of 80 nm TiO{s|x} active layer. After applying positive electroforming, initially the',
    'device is ON state. Then the polarity of the samples was changed. During the first cycle of the sweeping between ± voltage, the device is',
    'in a Low Resistance State (LRS). At a critical positive voltage, the device change from LRS to HRS which is known as the RESET',
    'process.',
  ];
  capLines.forEach((t, i) => {
    els.push({
      type: 'text', z: 130, x: 20, y: 968 + i * 25,
      style: { text: t, rich: capRich, fill: '#1a1a1a', fontFamily: SERIF, fontSize: CAP, fontWeight: 'normal', align: 'left', verticalAlign: 'middle' },
    });
  });

  return {
    animation: false,
    backgroundColor: '#fff',
    grid: grids,
    xAxis,
    yAxis,
    series,
    graphic: { elements: els },
  };
}

export default function App() {
  const ref = useRef<HTMLDivElement>(null);
  useEffect(() => {
    if (!ref.current) return;
    const chart = echarts.init(ref.current, undefined, { renderer: 'svg', width: 1171, height: 1115 });
    chart.setOption(buildOption() as any);
    return () => chart.dispose();
  }, []);
  return <div ref={ref} style={{ position: 'absolute', left: 0, top: 0, width: 1171, height: 1115, background: '#fff' }} />;
}
